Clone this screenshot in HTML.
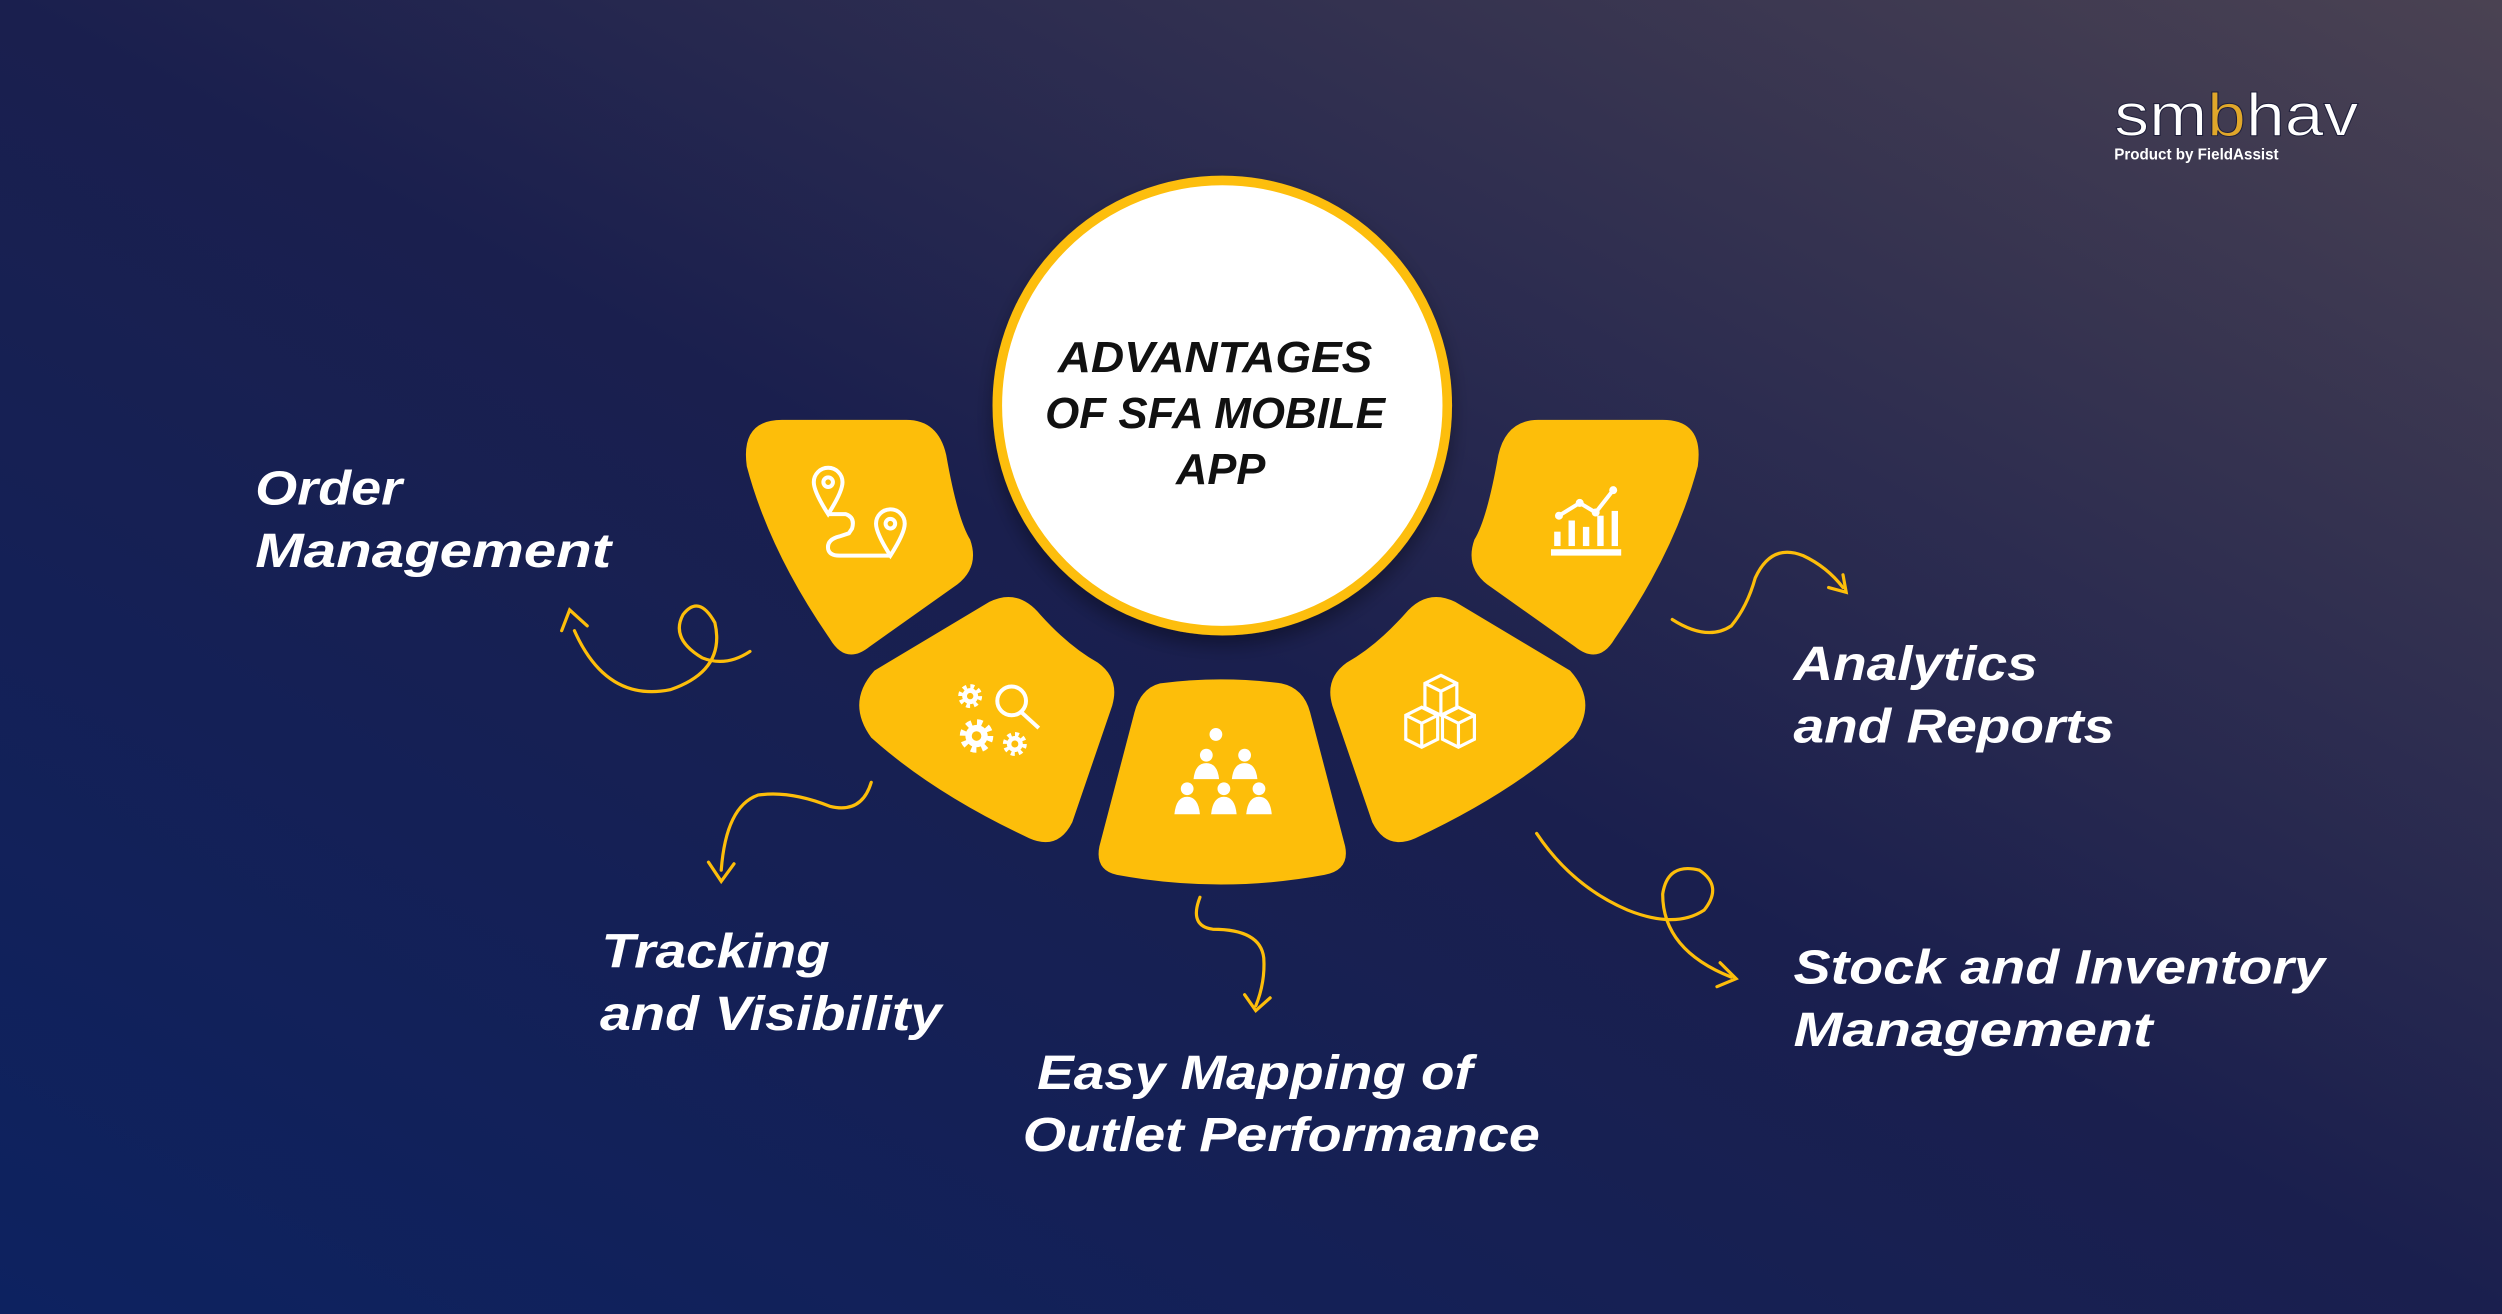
<!DOCTYPE html>
<html><head><meta charset="utf-8"><style>
html,body{margin:0;padding:0;width:2502px;height:1314px;overflow:hidden;background:#1a2050}
svg{display:block}
text{font-family:"Liberation Sans",sans-serif}
</style></head><body>
<svg width="2502" height="1314" viewBox="0 0 1568 823" preserveAspectRatio="none" xmlns="http://www.w3.org/2000/svg">
<defs>
<linearGradient id="bg" x1="0" y1="1" x2="1" y2="0">
<stop offset="0" stop-color="#0d2260"/>
<stop offset="0.5" stop-color="#1a1f4e"/>
<stop offset="1" stop-color="#4a4252"/>
</linearGradient>
<filter id="sh" x="-20%" y="-20%" width="140%" height="140%"><feDropShadow dx="0" dy="6" stdDeviation="6" flood-color="#000" flood-opacity="0.35"/></filter>
<path id="p1" d="M490,263 L568,263 Q588,263 593,285 Q600,325 608,338 Q614,355 600,366 L545,405 Q530,417 520,400 Q482,345 468,292 Q464,263 490,263 Z"/>
<path id="p2" d="M548,420 L620,377 Q638,368 652,385 Q670,405 688,415 Q702,425 697,442 L672,515 Q663,533 645,525 Q585,497 546,462 Q530,440 548,420 Z"/>
</defs>
<rect width="1568" height="823" fill="url(#bg)"/>

<g fill="#fdbe0a">
<use href="#p1"/>
<use href="#p2"/>
<path d="M727,428 Q765,423 803,428 Q817,431 821,446 L843,530 Q846,545 830,548 Q765,560 700,548 Q686,545 689,530 L711,446 Q715,431 727,428 Z"/>
<g transform="translate(1532,0) scale(-1,1)"><use href="#p1"/><use href="#p2"/></g>
</g>

<circle cx="766" cy="254" r="141" fill="#fff" stroke="#fdbe0a" stroke-width="6" filter="url(#sh)"/>
<g font-weight="bold" font-style="italic" font-size="27" fill="#111" lengthAdjust="spacingAndGlyphs">
<text x="663" y="233" textLength="197" lengthAdjust="spacingAndGlyphs">ADVANTAGES</text>
<text x="655" y="268" textLength="213" lengthAdjust="spacingAndGlyphs">OF SFA MOBILE</text>
<text x="737" y="303" textLength="56" lengthAdjust="spacingAndGlyphs">APP</text>
</g>

<g stroke="#fff" stroke-width="2.5" fill="none">
<path d="M519,322 Q510,308 510,302 A9,9 0 0 1 528,302 Q528,308 519,322 Z"/><circle cx="519" cy="302" r="3"/>
<path d="M558,348 Q549,334 549,328 A9,9 0 0 1 567,328 Q567,334 558,348 Z"/><circle cx="558" cy="328" r="3"/>
<path d="M519,322 L530,322 Q536,324 534,331 L532,334 L526,336 Q518,338 519,344 Q520,348 526,348 L558,348"/>
<circle cx="634" cy="439" r="9"/><path d="M640,446 L651,456"/>
<path d="M977,323 L990,315 L1000,321 L1011,307"/>
</g>
<g fill="#fff">
<circle cx="977" cy="323" r="2.5"/><circle cx="990" cy="315" r="2.5"/><circle cx="1000" cy="321" r="2.5"/><circle cx="1011" cy="307" r="2.5"/>
<rect x="974" y="333" width="4" height="9"/><rect x="983" y="326" width="4" height="16"/><rect x="992" y="330" width="4" height="12"/><rect x="1001" y="323" width="4" height="19"/><rect x="1010" y="320" width="4" height="22"/>
<rect x="972" y="344" width="44" height="4"/>
<circle cx="608" cy="436" r="5"/><circle cx="612" cy="461" r="7"/><circle cx="636" cy="466" r="5"/>
<circle cx="762" cy="460" r="4"/>
<circle cx="756" cy="473" r="4"/><path d="M748,488 Q749,478 756,478 Q763,478 764,488 Z"/>
<circle cx="780" cy="473" r="4"/><path d="M772,488 Q773,478 780,478 Q787,478 788,488 Z"/>
<circle cx="744" cy="494" r="4"/><path d="M736,510 Q737,499 744,499 Q751,499 752,510 Z"/>
<circle cx="767" cy="494" r="4"/><path d="M759,510 Q760,499 767,499 Q774,499 775,510 Z"/>
<circle cx="789" cy="494" r="4"/><path d="M781,510 Q782,499 789,499 Q796,499 797,510 Z"/>
</g>
<g stroke="#fff" fill="none">
<circle cx="608" cy="436" r="6" stroke-width="3" stroke-dasharray="2.4 2.3"/>
<circle cx="612" cy="461" r="8.5" stroke-width="4" stroke-dasharray="3.3 3.4"/>
<circle cx="636" cy="466" r="6" stroke-width="3" stroke-dasharray="2.4 2.3"/>
</g>
<g fill="#fdbe0a"><circle cx="608" cy="436" r="2"/><circle cx="612" cy="461" r="3"/><circle cx="636" cy="466" r="2.2"/></g>
<g stroke="#fff" stroke-width="2" fill="none">
<path d="M903,423 L913,428 L913,443 L903,448 L893,443 L893,428 Z M893,428 L903,433 L913,428 M903,433 L903,448"/>
<path d="M891,443 L901,448 L901,463 L891,468 L881,463 L881,448 Z M881,448 L891,453 L901,448 M891,453 L891,468"/>
<path d="M914,443 L924,448 L924,463 L914,468 L904,463 L904,448 Z M904,448 L914,453 L924,448 M914,453 L914,468"/>
</g>

<g stroke="#fdbe0a" stroke-width="2" fill="none" stroke-linecap="round">
<path d="M470,408 Q455,418 440,412 Q420,400 428,385 Q438,372 448,390 Q455,420 420,432 Q380,440 360,395"/>
<path d="M352,395 L357,382 L368,392"/>
<path d="M546,490 Q540,510 520,505 Q495,495 475,498 Q455,505 452,545"/>
<path d="M444,540 L452,552 L460,541"/>
<path d="M752,562 Q745,580 760,582 Q790,582 792,600 Q793,615 787,630"/>
<path d="M780,623 L787,633 L796,625"/>
<path d="M1048,388 Q1070,402 1085,392 Q1095,380 1100,362 Q1110,340 1130,348 Q1145,355 1155,368"/>
<path d="M1146,368 L1157,371 L1155,360"/>
<path d="M963,522 Q985,555 1020,570 Q1050,582 1068,570 Q1080,555 1065,545 Q1045,540 1042,560 Q1042,595 1085,612"/>
<path d="M1078,603 L1088,613 L1076,618"/>
</g>

<g font-weight="bold" font-style="italic" font-size="30" fill="#fff">
<text x="160" y="316" textLength="92" lengthAdjust="spacingAndGlyphs">Order</text>
<text x="160" y="355" textLength="223" lengthAdjust="spacingAndGlyphs">Management</text>
<text x="377" y="606" textLength="143" lengthAdjust="spacingAndGlyphs">Tracking</text>
<text x="376" y="645" textLength="214" lengthAdjust="spacingAndGlyphs">and Visibility</text>
<text x="650" y="682" textLength="273" lengthAdjust="spacingAndGlyphs">Easy Mapping of</text>
<text x="641" y="721" textLength="324" lengthAdjust="spacingAndGlyphs">Outlet Performance</text>
<text x="1124" y="426" textLength="153" lengthAdjust="spacingAndGlyphs">Analytics</text>
<text x="1124" y="465" textLength="201" lengthAdjust="spacingAndGlyphs">and Reports</text>
<text x="1124" y="616" textLength="333" lengthAdjust="spacingAndGlyphs">Stock and Inventory</text>
<text x="1124" y="655" textLength="225" lengthAdjust="spacingAndGlyphs">Management</text>
</g>

<text x="1325" y="85" font-size="38" fill="#fff" stroke="#1f1f3a" stroke-width="0.6" textLength="153" lengthAdjust="spacingAndGlyphs">sm<tspan fill="#e0a72a">b</tspan>hav</text>
<text x="1325" y="100" font-size="10" font-weight="bold" fill="#fff" textLength="103" lengthAdjust="spacingAndGlyphs">Product by FieldAssist</text>
</svg>
</body></html>
